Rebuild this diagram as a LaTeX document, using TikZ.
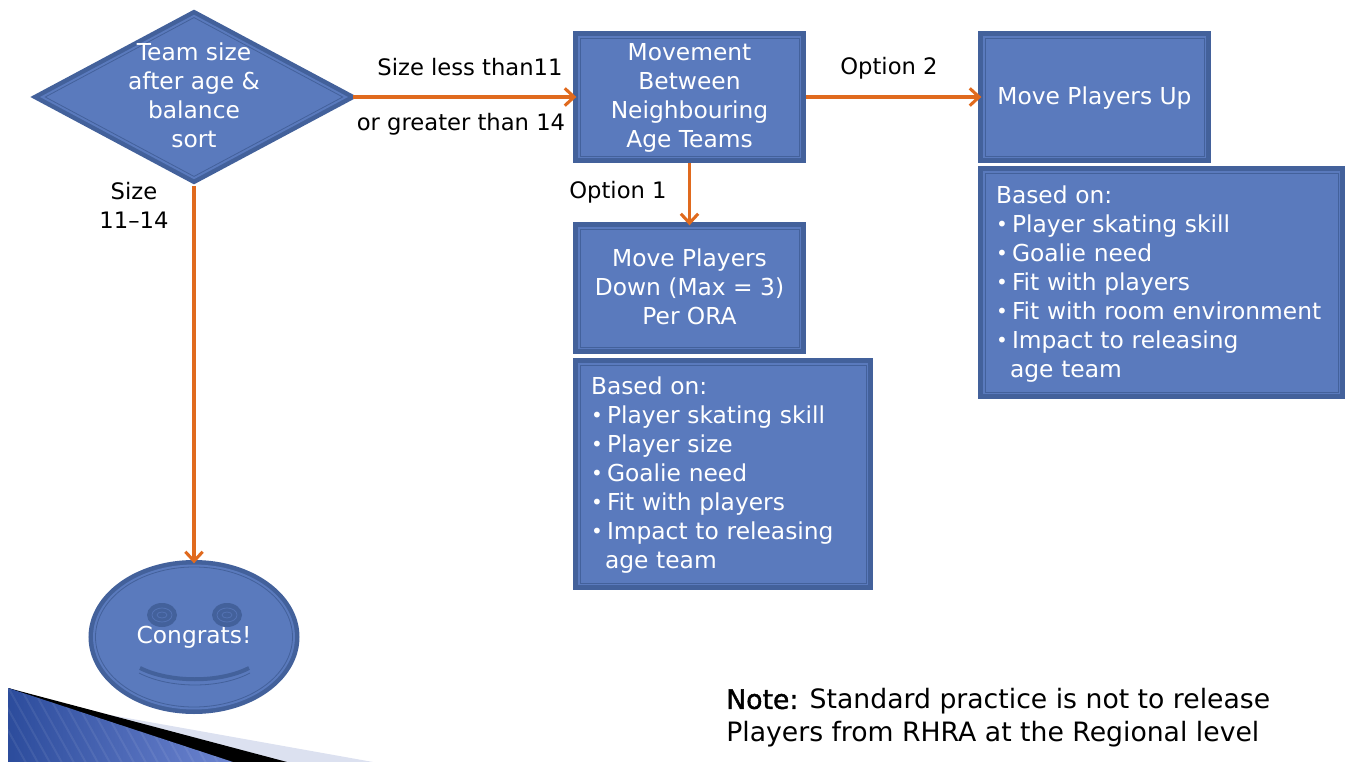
\documentclass[tikz,border=0pt]{standalone}
\usepackage{fontspec}
\setmainfont{DejaVu Sans}
\usetikzlibrary{arrows.meta,shapes.geometric}
\definecolor{boxfill}{RGB}{90,122,189}
\definecolor{boxedge}{RGB}{67,97,155}
\definecolor{linkorange}{RGB}{224,106,30}
\definecolor{wedgedark}{RGB}{44,76,156}
\definecolor{wedgelight}{RGB}{108,132,208}
\definecolor{wedgepale}{RGB}{220,225,240}
\newcommand{\listitem}{\raisebox{0.6pt}{\fontsize{15}{15}\selectfont\textbullet}\hspace{3.15pt}}
\newcommand{\lowline}{\rule[-2.3pt]{0pt}{1pt}}
\tikzset{
	flowshape/.style={fill=boxfill,draw=boxedge,line width=0.6pt,text=white,outer sep=5.25pt,inner sep=0pt,align=center,
		font=\fontsize{17.5}{21.75}\selectfont,
		preaction={draw=boxedge,line width=10.5pt},
		preaction={draw=boxfill,line width=3.7pt}},
	flowbox/.style={flowshape,rectangle},
	listbox/.style={flowshape,rectangle,align=left},
	flowlabel/.style={text=black,align=center,inner sep=0pt,font=\fontsize{17}{21.75}\selectfont},
	flowlink/.style={line width=2.3pt,linkorange,-{Straight Barb[length=7pt,width=13pt]},shorten >=-2.5pt}
}
\begin{document}
\begin{tikzpicture}[x=0.75pt,y=-0.75pt]
	
	\useasboundingbox (0,0) rectangle (1345,762);
	
	\fill[wedgepale] (110,715) -- (373,762) -- (110,762) -- cycle;
	\fill[black] (8,688) -- (287,762) -- (8,762) -- cycle;
	\fill[left color=wedgedark,right color=wedgelight] (8,688) -- (233,762) -- (8,762) -- cycle;
	\begin{scope}
		\clip (8,688) -- (233,762) -- (8,762) -- cycle;
		\foreach \stripe in {-20,-8,...,230}
			\draw[white,opacity=0.07,line width=1.5pt] (\stripe,680) -- (\stripe+50,770);
	\end{scope}
	
	\node[flowshape,diamond,minimum width=227.5pt,minimum height=123.5pt,inner sep=-30pt] (sizecheck) at (194,97) {Team size\\after age \&\\balance\\sort\lowline};
	\node[flowbox,minimum width=164.25pt,minimum height=88.5pt] (movement) at (689.5,97) {\rule{0pt}{14.5pt}Movement\\Between\\Neighbouring\\Age Teams};
	\node[flowbox,minimum width=164.25pt,minimum height=88.5pt] (movedown) at (689.5,288) {Move Players\\Down (Max = 3)\\Per ORA\lowline};
	\node[flowbox,minimum width=164.25pt,minimum height=88.5pt] (moveup) at (1094.5,97) {\rule{0pt}{14.5pt}Move Players Up};
	
	\node[listbox,minimum width=214.5pt,minimum height=163.5pt,text width=198pt] (downlist) at (723,474) {\rule{0pt}{14.5pt}Based on:\\
		\listitem Player skating skill\\
		\listitem Player size\\
		\listitem Goalie need\\
		\listitem Fit with players\\
		\listitem Impact to releasing\\
		\hspace*{10.5pt}age team};
	\node[listbox,minimum width=264.75pt,minimum height=164.25pt,text width=248.25pt] (uplist) at (1161.5,282.5) {\rule{0pt}{16pt}Based on:\\
		\listitem Player skating skill\\
		\listitem Goalie need\\
		\listitem Fit with players\\
		\listitem Fit with room environment\\
		\listitem Impact to releasing\\
		\hspace*{10.5pt}age team};
	
	\node[flowshape,ellipse,minimum width=147.75pt,minimum height=105pt] (smiley) at (194,637) {Congrats!};
	
	\fill[boxedge] (162,615) ellipse (15 and 12);
	\fill[boxedge] (227,615) ellipse (15 and 12);
	\draw[boxfill!70!boxedge,line width=0.6pt] (162,615) ellipse (10 and 7);
	\draw[boxfill!70!boxedge,line width=0.6pt] (227,615) ellipse (10 and 7);
	\draw[boxfill!70!boxedge,line width=0.6pt] (162,615) ellipse (5 and 3);
	\draw[boxfill!70!boxedge,line width=0.6pt] (227,615) ellipse (5 and 3);
	\draw[boxedge,line width=3pt] (140,668) .. controls (170,683) and (220,683) .. (249,668);
	\draw[boxedge,line width=0.6pt] (139,673) .. controls (170,689) and (220,689) .. (250,673);
	
	\draw[flowlink] (sizecheck.east) -- (movement.west);
	\draw[flowlink] (sizecheck.south) -- (smiley.north);
	\draw[flowlink] (movement.east) -- (moveup.west);
	\draw[flowlink] (movement.south) -- (movedown.north);
	
	\node[flowlabel] (lesslabel) at (470,67) {Size less than11};
	\node[flowlabel] (greaterlabel) at (461,124) {or greater than 14};
	\node[flowlabel] (optiontwo) at (889,68.5) {Option 2};
	\node[flowlabel] (optionone) at (618,192.5) {Option 1};
	\node[flowlabel] (sizelabel) at (134,205) {Size\\11–14};
	
	\node[flowlabel,align=left,anchor=west,font=\fontsize{20}{24.75}\selectfont] (notelabel) at (726,718) {{\addfontfeature{FakeBold=1.5}Note:} Standard practice is not to release\\Players from RHRA at the Regional level};
	
\end{tikzpicture}
\end{document}
